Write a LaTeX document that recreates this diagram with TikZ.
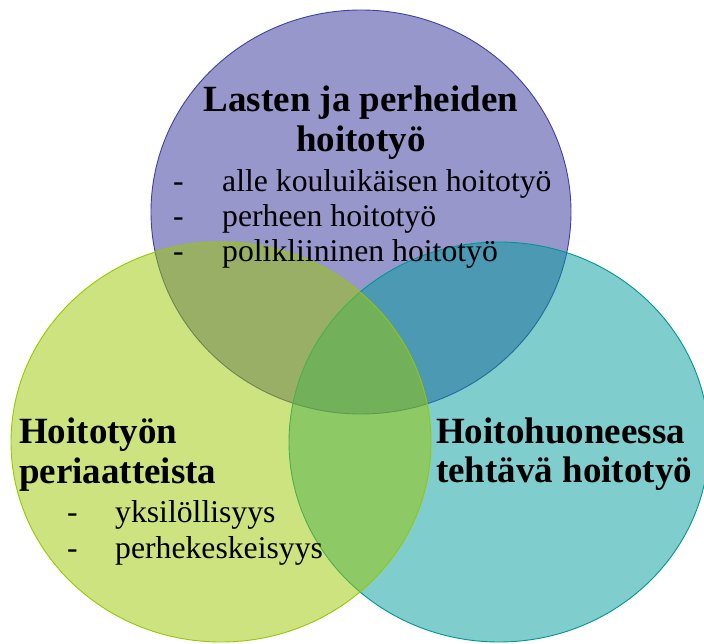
\documentclass[tikz,border=0pt]{standalone}
\usepackage{fontspec}
\setmainfont{Liberation Serif}
\definecolor{vpurple}{RGB}{48,48,152}
\definecolor{vpurpleline}{RGB}{64,64,165}
\definecolor{vteal}{RGB}{0,155,155}
\definecolor{vtealline}{RGB}{0,150,150}
\definecolor{vgreen}{RGB}{155,200,0}
\definecolor{vgreenline}{RGB}{150,200,0}
\tikzset{
  vennset/.style={line width=0.9pt, fill opacity=0.5, draw opacity=1},
  headtext/.style={inner sep=0pt, font=\fontsize{37}{40}\selectfont\bfseries},
  itemtext/.style={inner sep=0pt, font=\fontsize{31.7}{36}\selectfont, anchor=base west},
}
\begin{document}
\begin{tikzpicture}[x=1pt,y=-1pt]
\useasboundingbox (0,0) rectangle (704,644);
\clip (0,0) rectangle (704,644);
% circles
\path[vennset, draw=vpurpleline, fill=vpurple] (361,212) ellipse [x radius=210pt, y radius=202pt];
\path[vennset, draw=vtealline, fill=vteal] (499,442) ellipse [x radius=210pt, y radius=200pt];
\path[vennset, draw=vgreenline, fill=vgreen] (221,442) ellipse [x radius=210pt, y radius=200pt];
% top set
\node[headtext, anchor=base] (t1) at (361,112) {Lasten ja perheiden};
\node[headtext, anchor=base] (t2) at (361,152) {hoitotyö};
\node[itemtext] (d1) at (173,192) {-};
\node[itemtext] (i1) at (222,192) {alle kouluikäisen hoitotyö};
\node[itemtext] (d2) at (173,227) {-};
\node[itemtext] (i2) at (222,227) {perheen hoitotyö};
\node[itemtext] (d3) at (173,262) {-};
\node[itemtext] (i3) at (222,262) {polikliininen hoitotyö};
% left set
\node[headtext, anchor=base west] (l1) at (19,443) {Hoitotyön};
\node[headtext, anchor=base west] (l2) at (19,483) {periaatteista};
\node[itemtext] (ld1) at (67,522) {-};
\node[itemtext] (li1) at (115,522) {yksilöllisyys};
\node[itemtext] (ld2) at (67,558) {-};
\node[itemtext] (li2) at (115,558) {perhekeskeisyys};
% right set
\node[headtext, anchor=base west] (r1) at (436,443) {Hoitohuoneessa};
\node[headtext, anchor=base west] (r2) at (436,482) {tehtävä hoitotyö};
\end{tikzpicture}
\end{document}
